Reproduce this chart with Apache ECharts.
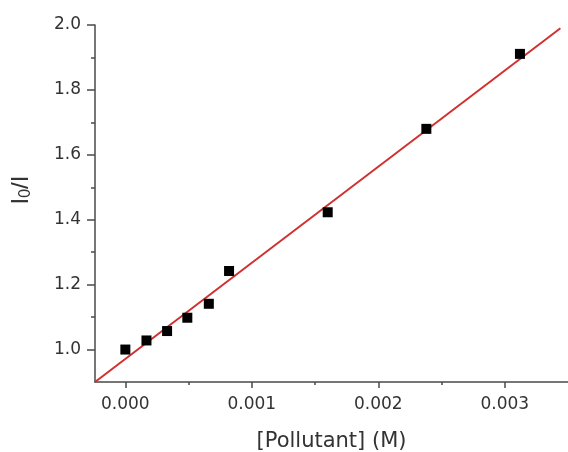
<!DOCTYPE html>
<html><head><meta charset="utf-8">
<script src="https://cdn.jsdelivr.net/npm/echarts@6/dist/echarts.min.js"></script>
<style>html,body{margin:0;padding:0;background:#fff}#c{width:568px;height:452px}</style>
</head><body><div id="c"></div>
<script>
const concX = [0.0, 0.000167, 0.00033, 0.00049, 0.00066, 0.00082, 0.0016, 0.00238, 0.00312];
const ratioY = [1.0, 1.028, 1.057, 1.098, 1.141, 1.242, 1.423, 1.68, 1.911];
const fitX = [-0.00024, 0.00344];
const fitY = [0.9, 1.99];
const xMajorTicks = [0, 0.001, 0.002, 0.003];
const xMinorTicks = [0.0005, 0.0015, 0.0025];
const yMajorTicks = [1.0, 1.2, 1.4, 1.6, 1.8, 2.0];
const yMinorTicks = [1.1, 1.3, 1.5, 1.7, 1.9];

const FONT = '"DejaVu Sans", sans-serif';
const AX = '#4a4a4a';
const TXT = '#333';
const chart = echarts.init(document.getElementById('c'));
const xBase = {type:'value', min:-0.00024, max:0.0035, position:'bottom'};
const yBase = {type:'value', min:0.9, max:2.0, position:'left'};
chart.setOption({
  animation:false,
  grid:{left:95, top:25, right:0, bottom:70, containLabel:false, outerBoundsMode:'none'},
  graphic:[{
    type:'text', x:21, y:190, rotation:Math.PI/2,
    style:{
      text:'{a|I}{b|0}{a|/I}', align:'center', verticalAlign:'middle',
      rich:{
        a:{fontFamily:'Liberation Sans, Arial, sans-serif', fontSize:24, fill:TXT},
        b:{fontFamily:'Liberation Sans, Arial, sans-serif', fontSize:16, fill:TXT, padding:[10,0,0,0]}
      }
    }
  }],
  xAxis:[
    Object.assign({}, xBase, {
      name:'[Pollutant] (M)', nameLocation:'middle', nameGap:49,
      nameTextStyle:{fontFamily:FONT, fontSize:21, color:TXT},
      axisLine:{show:true, onZero:false, lineStyle:{color:AX, width:1.5}},
      axisTick:{show:true, customValues:xMajorTicks, length:6, lineStyle:{color:AX, width:1.5}},
      axisLabel:{customValues:xMajorTicks, margin:14, fontFamily:FONT, fontSize:17, color:TXT,
        formatter:v=>v.toFixed(3)},
      splitLine:{show:false}
    }),
    Object.assign({}, xBase, {
      axisLine:{show:false, onZero:false},
      axisTick:{show:true, customValues:xMinorTicks, length:3, lineStyle:{color:AX, width:1.5}},
      axisLabel:{show:false}, splitLine:{show:false}
    })
  ],
  yAxis:[
    Object.assign({}, yBase, {
      axisLine:{show:true, onZero:false, lineStyle:{color:AX, width:1.5}},
      axisTick:{show:true, customValues:yMajorTicks, length:8, lineStyle:{color:AX, width:1.5}},
      axisLabel:{customValues:yMajorTicks, margin:14, fontFamily:FONT, fontSize:17, color:TXT,
        formatter:v=>v.toFixed(1)},
      splitLine:{show:false}
    }),
    Object.assign({}, yBase, {
      axisLine:{show:false, onZero:false},
      axisTick:{show:true, customValues:yMinorTicks, length:4, lineStyle:{color:AX, width:1.5}},
      axisLabel:{show:false}, splitLine:{show:false}
    })
  ],
  series:[
    {type:'line', data:fitX.map((x,i)=>[x,fitY[i]]), showSymbol:false, symbol:'none',
      lineStyle:{color:'#d03030', width:2}, z:2},
    {type:'scatter', data:concX.map((x,i)=>[x,ratioY[i]]), symbol:'rect', symbolSize:10,
      itemStyle:{color:'#000', opacity:1}, z:3}
  ]
});
</script></body></html>
